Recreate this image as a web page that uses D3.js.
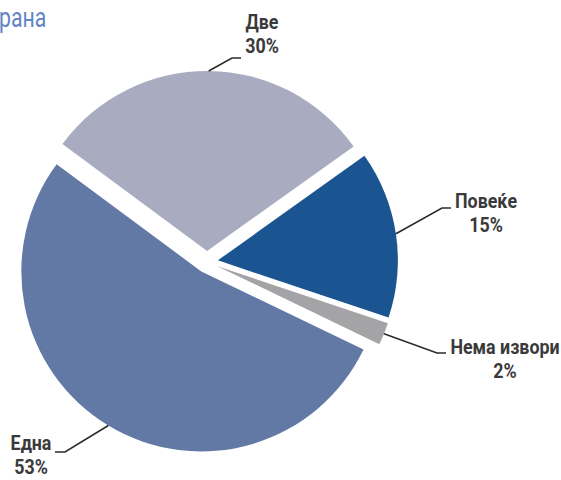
<!DOCTYPE html>
<html>
<head>
<meta charset="utf-8">
<script src="https://cdn.jsdelivr.net/npm/d3@7"></script>
<style>
  html, body { margin: 0; padding: 0; background: #ffffff; }
  svg { display: block; }
</style>
</head>
<body>
<svg id="chart" width="561" height="480"></svg>
<script>
// ---- data ----
const categories = ["Две", "Повеќе", "Нема извори", "Една"];
const values = [30, 15, 2, 53];
const valueLabels = ["30%", "15%", "2%", "53%"];
const titleText = "рана";

// ---- styling / layout ----
const colors = ["#a9acc1", "#1b5591", "#a4a4a6", "#6379a5"];
const width = 561, height = 480;
const cx = 207, cy = 262, R = 180, explode = 11;
const startDeg = -53.5;
const FONT = "Roboto, 'Liberation Sans', sans-serif";
const labelScale = 0.87;

// label layout: elbow point, end of horizontal, text anchor point
const labelLayout = [
  { elbow: [232, 58], end: [241, 58], tx: 262, ty: 29 },
  { elbow: [442, 208], end: [451, 208], tx: 486, ty: 208 },
  { elbow: [437, 353], end: [446, 353], tx: 505, ty: 354 },
  { elbow: [65, 452], end: [55, 452], tx: 31, ty: 450 }
];

const svg = d3.select("#chart");

const rad = d => d * Math.PI / 180;
const pie = d3.pie().sort(null)
  .startAngle(rad(startDeg)).endAngle(rad(startDeg + 360));
const arcs = pie(values);
const arc = d3.arc().innerRadius(0).outerRadius(R);

const g = svg.append("g").attr("transform", `translate(${cx},${cy})`);

const offset = (d, r) => {
  const a = (d.startAngle + d.endAngle) / 2;
  return [Math.sin(a) * r, -Math.cos(a) * r];
};

g.selectAll("path.slice")
  .data(arcs)
  .join("path")
  .attr("class", "slice")
  .attr("d", arc)
  .attr("fill", (d, i) => colors[i])
  .attr("transform", d => {
    const [ox, oy] = offset(d, explode);
    return `translate(${ox},${oy})`;
  });

// leader lines + labels
arcs.forEach((d, i) => {
  const [ox, oy] = offset(d, explode);
  const [px, py] = offset(d, R);
  const start = [cx + ox + px, cy + oy + py];
  const L = labelLayout[i];
  svg.append("polyline")
    .attr("points", [start, L.elbow, L.end].map(p => p.join(",")).join(" "))
    .attr("fill", "none")
    .attr("stroke", "#2b2b2b")
    .attr("stroke-width", 1.6);
  const t = svg.append("g")
    .attr("transform", `translate(${L.tx},${L.ty}) scale(${labelScale},1)`)
    .append("text")
    .attr("x", 0).attr("y", 0)
    .attr("text-anchor", "middle")
    .attr("font-family", FONT)
    .attr("font-weight", "bold")
    .attr("font-size", 20.5)
    .attr("fill", "#3a3a3a");
  t.append("tspan").attr("x", 0).text(categories[i]);
  t.append("tspan").attr("x", 0).attr("dy", 24).text(valueLabels[i]);
});

// title fragment
svg.append("g")
  .attr("transform", "translate(-1,27) scale(0.76,1)")
  .append("text")
  .attr("x", 0).attr("y", 0)
  .attr("font-family", FONT)
  .attr("font-size", 28)
  .attr("fill", "#6184c4")
  .text(titleText);
</script>
</body>
</html>
